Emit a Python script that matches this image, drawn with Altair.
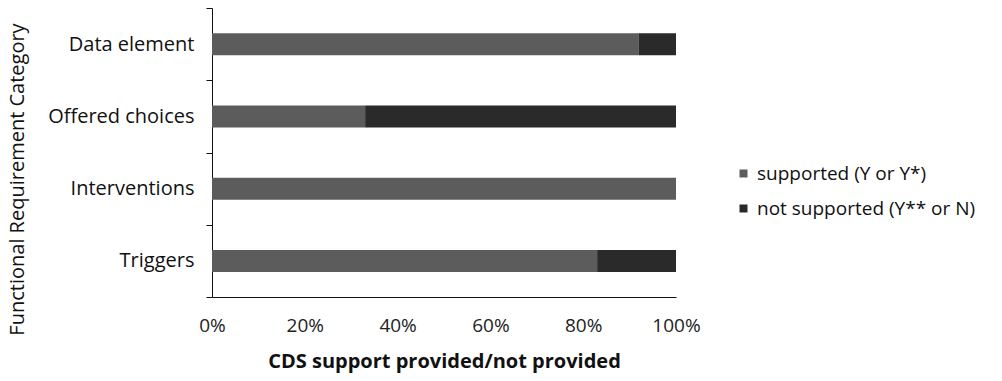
import altair as alt
import pandas as pd

categories = ["Data element", "Offered choices", "Interventions", "Triggers"]
supported = [92, 33, 100, 83]
not_supported = [8, 67, 0, 17]
series_names = ["supported (Y or Y*)", "not supported (Y** or N)"]
x_ticks = [0, 0.2, 0.4, 0.6, 0.8, 1.0]

rows = []
for c, s, n in zip(categories, supported, not_supported):
    rows.append({"category": c, "series": series_names[0], "value": s, "ord": 0})
    rows.append({"category": c, "series": series_names[1], "value": n, "ord": 1})
df = pd.DataFrame(rows)

font = "Open Sans"

chart = alt.Chart(df).mark_bar(size=22, stroke=None).encode(
    y=alt.Y("category:N", sort=categories,
            scale=alt.Scale(paddingInner=0, paddingOuter=0),
            axis=alt.Axis(title="Functional Requirement Category", titleFont=font,
                          titleFontSize=20, titleFontWeight="normal", titleColor="#111",
                          titleAngle=270, titleX=-195, titleY=171, titleAlign="center",
                          titleBaseline="middle",
                          labelFont=font, labelFontSize=20, labelColor="#111",
                          labelPadding=12, ticks=True, tickSize=6, tickColor="#111",
                          tickBand="extent", labelLimit=0,
                          domainColor="#111", grid=False)),
    x=alt.X("value:Q", stack="normalize",
            scale=alt.Scale(domain=[0, 1], nice=False),
            axis=alt.Axis(title="CDS support provided/not provided", titleFont=font,
                          titleFontSize=20, titleFontWeight="bold", titleColor="#111",
                          titlePadding=16, labelFlush=False,
                          format="%", values=x_ticks, labelFont=font, labelFontSize=19,
                          labelColor="#222", labelPadding=19, ticks=False,
                          domainColor="#111", grid=False)),
    color=alt.Color("series:N", sort=series_names,
                    scale=alt.Scale(domain=series_names, range=["#5c5c5c", "#2a2a2a"]),
                    legend=alt.Legend(title=None, orient="none", legendX=522, legendY=156,
                                      symbolType="square", symbolSize=64,
                                      labelFont=font, labelFontSize=19, labelColor="#111",
                                      rowPadding=15, labelOffset=4, labelLimit=0)),
    order=alt.Order("ord:Q"),
).properties(
    width=464, height=289,
    autosize=alt.AutoSizeParams(type="none"),
    padding={"left": 212, "top": 8, "right": 326, "bottom": 84},
).configure(background="white").configure_view(stroke=None)

chart.save("out.html", embed_options={"renderer": "svg", "actions": False})
